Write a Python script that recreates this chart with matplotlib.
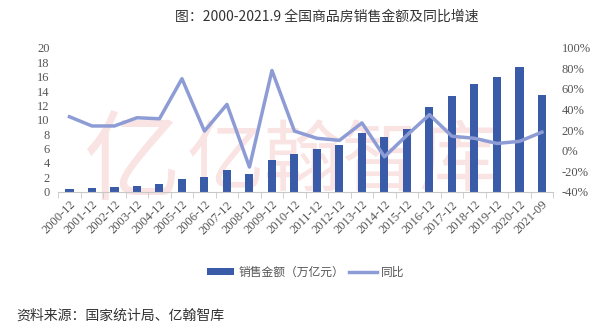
import numpy as np
import matplotlib.pyplot as plt

plt.rcParams['font.family'] = ['Noto Sans CJK SC', 'DejaVu Sans']

periods = ['2000-12', '2001-12', '2002-12', '2003-12', '2004-12', '2005-12',
           '2006-12', '2007-12', '2008-12', '2009-12', '2010-12', '2011-12',
           '2012-12', '2013-12', '2014-12', '2015-12', '2016-12', '2017-12',
           '2018-12', '2019-12', '2020-12', '2021-09']
sales = [0.39, 0.49, 0.60, 0.77, 1.04, 1.76, 2.08, 2.96, 2.51, 4.40, 5.25,
         5.91, 6.45, 8.14, 7.63, 8.73, 11.76, 13.37, 15.00, 15.97, 17.36, 13.50]
yoy = [33, 24, 24, 32, 31, 70, 19, 45, -16, 78, 19, 12, 10, 27, -6, 15,
       35, 14, 12, 7, 9, 18]

bar_color = '#3a5ba8'
line_color = '#8e9cd6'
serif = ['Liberation Serif', 'DejaVu Serif']

fig = plt.figure(figsize=(6, 3.28), dpi=100)
ax = fig.add_axes([0.097, 0.4155, 0.825, 0.4385])
ax.set_zorder(2)
ax.patch.set_visible(False)

# watermark
fig.text(0.22, 0.5, '亿', fontsize=70, color='#fae3e3', ha='center',
         va='center', zorder=0)
fig.text(0.57, 0.5, '亿翰智库', fontsize=56, color='#fae3e3', ha='center',
         va='center', zorder=0)

x = np.arange(len(periods))
ax.bar(x, sales, width=0.36, color=bar_color, zorder=2, label='销售金额（万亿元）')
ax.set_ylim(0, 20)
ax.set_yticks(np.arange(0, 21, 2))
ax.set_xlim(-0.5, len(periods) - 0.5)

ax2 = ax.twinx()
ax2.plot(x, yoy, color=line_color, lw=2.5, zorder=3, label='同比')
ax2.set_ylim(-40, 100)
ax2.set_yticks(np.arange(-40, 101, 20))
ax2.set_yticklabels([f'{v}%' for v in range(-40, 101, 20)])

for a in (ax, ax2):
    for s in a.spines.values():
        s.set_visible(False)
ax.spines['bottom'].set_visible(True)
ax.spines['bottom'].set_color('#c8c8c8')

ax.tick_params(axis='y', length=0, labelsize=9, labelcolor='#555555', pad=6)
ax2.tick_params(axis='y', length=0, labelsize=9, labelcolor='#555555', pad=6)
for lab in ax.get_yticklabels() + ax2.get_yticklabels():
    lab.set_family(serif)

ax.set_xticks(x)
ax.set_xticklabels(periods, rotation=45, ha='right', rotation_mode='anchor',
                   fontsize=9, color='#555555', family=serif)
ax.tick_params(axis='x', length=0, pad=5)
ax.set_xticks(np.arange(-0.5, len(periods), 1), minor=True)
ax.tick_params(axis='x', which='minor', length=4, color='#c8c8c8')

fig.text(0.545, 0.948, '图：2000-2021.9 全国商品房销售金额及同比增速', ha='center',
         va='center', fontsize=10, color='#333333')

h1, l1 = ax.get_legend_handles_labels()
h2, l2 = ax2.get_legend_handles_labels()
fig.legend(h1 + h2, l1 + l2, loc='center', bbox_to_anchor=(0.51, 0.17), ncol=2,
           frameon=False, fontsize=8.5, handlelength=2.3, handleheight=0.6,
           columnspacing=0.4, handletextpad=0.4, labelcolor='#555555')

fig.text(0.028, 0.038, '资料来源：国家统计局、亿翰智库', ha='left', va='center',
         fontsize=10, color='#333333')

fig.savefig('out.png', dpi=100)
